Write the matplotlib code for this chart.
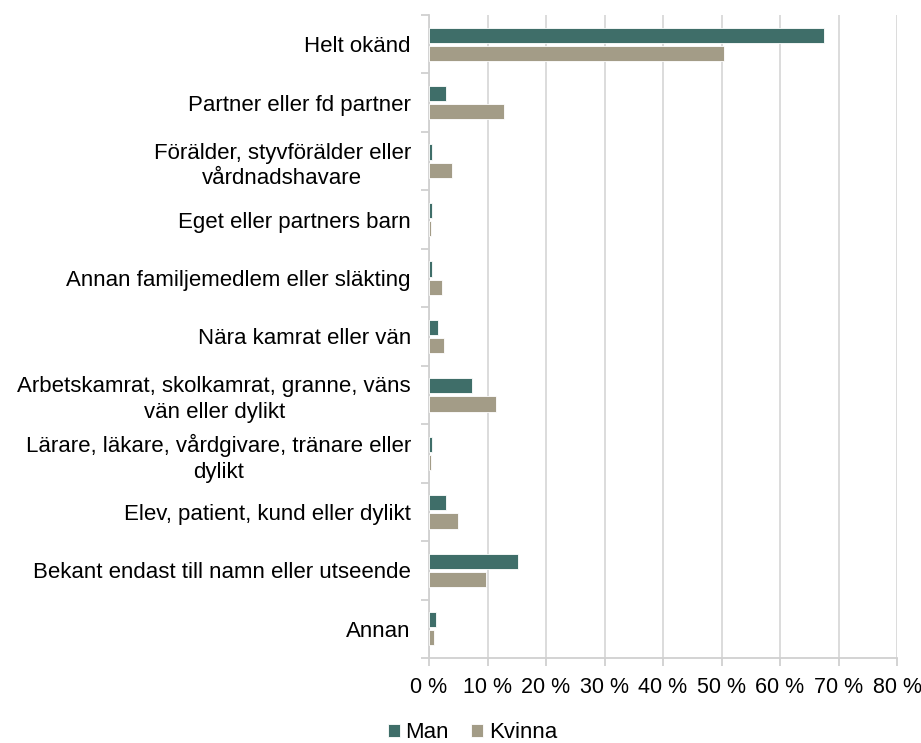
import matplotlib
matplotlib.use("Agg")
import matplotlib.pyplot as plt
import numpy as np
from matplotlib.ticker import FixedLocator

plt.rcParams['font.family'] = ['Liberation Sans', 'DejaVu Sans']

categories = [
    "Helt okänd",
    "Partner eller fd partner",
    "Förälder, styvförälder eller\nvårdnadshavare",
    "Eget eller partners barn",
    "Annan familjemedlem eller släkting",
    "Nära kamrat eller vän",
    "Arbetskamrat, skolkamrat, granne, väns\nvän eller dylikt",
    "Lärare, läkare, vårdgivare, tränare eller\ndylikt",
    "Elev, patient, kund eller dylikt",
    "Bekant endast till namn eller utseende",
    "Annan",
]
man = [67.5, 2.9, 0.5, 0.5, 0.5, 1.5, 7.3, 0.5, 2.9, 15.2, 1.2]
kvinna = [50.5, 12.8, 3.9, 0.4, 2.2, 2.6, 11.5, 0.4, 5.0, 9.8, 0.8]
xticks = [0, 10, 20, 30, 40, 50, 60, 70, 80]

c_man = "#3f6e69"
c_kv = "#a39c87"

fig = plt.figure(figsize=(9.21, 7.43), dpi=100)
ax = fig.add_axes([429/921, 1-658/743, (897-429)/921, (658-15)/743])

n = len(categories)
y = np.arange(n)
h = 0.26
off = 0.155
ax.barh(y - off, man, height=h, color=c_man, edgecolor="white", linewidth=0.6, label="Man", zorder=3)
ax.barh(y + off, kvinna, height=h, color=c_kv, edgecolor="white", linewidth=0.6, label="Kvinna", zorder=3)

ax.set_ylim(n - 0.5, -0.5)
ax.set_xlim(0, 80)
ax.set_xticks(xticks)
ax.set_xticklabels([f"{v} %" for v in xticks], fontsize=15.5)
ax.set_yticks(y)
ax.set_yticklabels(categories, fontsize=16, linespacing=1.3)
ax.yaxis.set_minor_locator(FixedLocator(np.arange(-0.5, n, 1.0)))
ax.tick_params(axis='y', which='major', length=0, pad=13)
ax.tick_params(axis='y', which='minor', length=6, color="#d0d0d0", width=1.3)
ax.tick_params(axis='x', which='major', length=6, color="#d0d0d0", width=1.3, pad=8)
for lab in ax.get_yticklabels():
    lab.set_horizontalalignment('right')
    lab.set_multialignment('center')

ax.grid(axis='x', color="#d9d9d9", linewidth=1.3, zorder=0)
for s in ["top", "right"]:
    ax.spines[s].set_visible(False)
for s in ["left", "bottom"]:
    ax.spines[s].set_color("#d0d0d0")
    ax.spines[s].set_linewidth(1.3)

fig.legend(loc="center", bbox_to_anchor=(0.5 + 12/921, 1 - 733/743), ncol=2, frameon=False,
           fontsize=16, handlelength=0.55, handleheight=0.55, handletextpad=0.25,
           columnspacing=1.0, borderpad=0)

fig.savefig("out.png", dpi=100)
